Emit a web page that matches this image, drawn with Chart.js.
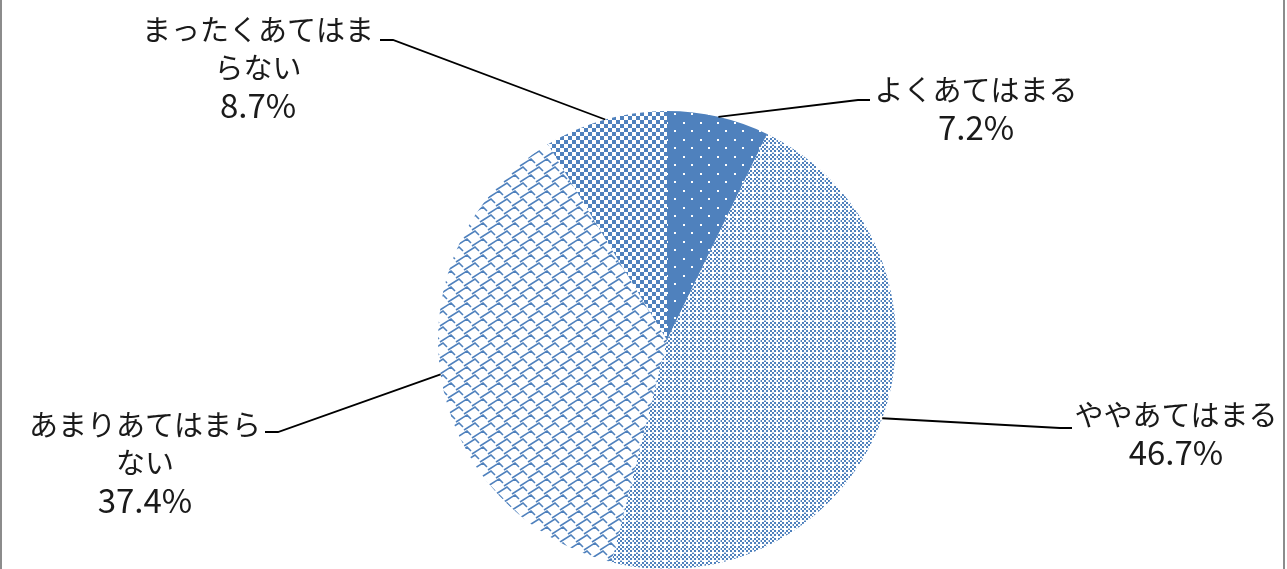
<!DOCTYPE html>
<html>
<head>
<meta charset="utf-8">
<script src="https://cdn.jsdelivr.net/npm/chart.js@4"></script>
<style>
body { margin: 0; background: #fff; }
canvas { display: block; }
</style>
</head>
<body>
<canvas id="pieChart" width="1287" height="569"></canvas>
<script>
const categories = ['よくあてはまる', 'ややあてはまる', 'あまりあてはまらない', 'まったくあてはまらない'];
const percentages = [7.2, 46.7, 37.4, 8.7];
// how each category label wraps on the chart
const labelLines = [['よくあてはまる'], ['ややあてはまる'], ['あまりあてはまら', 'ない'], ['まったくあてはま', 'らない']];

const BLUE = '#4F81BD';

// label placement: text center, first line y, elbow of the leader line
const labelLayout = [
    { x: 976, y: 90, elbowX: 858, elbowY: 100, endX: 870 },
    { x: 1176, y: 415, elbowX: 1060, elbowY: 428, endX: 1072 },
    { x: 145, y: 425, elbowX: 278, elbowY: 432, endX: 265 },
    { x: 258, y: 30, elbowX: 393, elbowY: 40, endX: 380 }
];

function makeTile(w, h, draw) {
    const c = document.createElement('canvas');
    c.width = w;
    c.height = h;
    const g = c.getContext('2d');
    draw(g);
    return g.createPattern(c, 'repeat');
}

const ctx = document.getElementById('pieChart').getContext('2d');

// solid blue with white dots
const dots = makeTile(17, 17, g => {
    g.fillStyle = BLUE;
    g.fillRect(0, 0, 17, 17);
    g.fillStyle = '#fff';
    g.fillRect(3, 3, 2, 2);
    g.fillRect(11, 11, 2, 2);
});

// fine checker with light grid
const fineChecker = makeTile(8, 8, g => {
    g.fillStyle = '#fff';
    g.fillRect(0, 0, 8, 8);
    g.fillStyle = BLUE;
    for (let y = 0; y < 8; y += 2) {
        for (let x = 0; x < 8; x += 2) {
            if (((x + y) / 2) % 2 === 0) g.fillRect(x, y, 2, 2);
        }
    }
    g.fillStyle = 'rgba(255,255,255,0.55)';
    g.fillRect(0, 0, 8, 1);
    g.fillRect(0, 0, 1, 8);
    g.fillStyle = '#fff';
    g.fillRect(0, 0, 2, 2);
});

// white with blue shingle steps, staggered
const shingle = makeTile(16, 16, g => {
    g.fillStyle = '#fff';
    g.fillRect(0, 0, 16, 16);
    g.strokeStyle = BLUE;
    g.lineWidth = 1.6;
    const starts = [[0, 14], [8, 6]];
    for (const [sx, sy] of starts) {
        for (const ox of [-16, 0, 16]) {
            for (const oy of [-16, 0, 16]) {
                const x = sx + ox, y = sy + oy;
                g.beginPath();
                g.moveTo(x, y);
                g.lineTo(x + 11, y - 7);
                g.lineTo(x + 15, y - 3);
                g.stroke();
            }
        }
    }
});

// coarse checkerboard
const checker = makeTile(8, 8, g => {
    g.fillStyle = '#fff';
    g.fillRect(0, 0, 8, 8);
    g.fillStyle = BLUE;
    g.fillRect(0, 0, 4, 4);
    g.fillRect(4, 4, 4, 4);
});

const leaderLabels = {
    id: 'leaderLabels',
    afterDraw(chart) {
        const c = chart.ctx;
        const arcs = chart.getDatasetMeta(0).data;
        c.save();
        arcs.forEach((arc, i) => {
            const lay = labelLayout[i];
            const mid = (arc.startAngle + arc.endAngle) / 2;
            const px = arc.x + Math.cos(mid) * arc.outerRadius;
            const py = arc.y + Math.sin(mid) * arc.outerRadius;
            c.strokeStyle = '#000';
            c.lineWidth = 1.8;
            c.beginPath();
            c.moveTo(px, py);
            c.lineTo(lay.elbowX, lay.elbowY);
            c.lineTo(lay.endX, lay.elbowY);
            c.stroke();

            c.fillStyle = '#1a1a1a';
            c.textAlign = 'center';
            c.textBaseline = 'middle';
            const lines = labelLines[i];
            c.font = '29px "Noto Sans CJK JP", sans-serif';
            lines.forEach((t, k) => c.fillText(t, lay.x, lay.y + k * 37.5));
            c.font = '33px "Noto Sans CJK JP", sans-serif';
            c.fillText(percentages[i].toFixed(1) + '%', lay.x, lay.y + lines.length * 37.5);
        });
        // chart frame edges
        c.fillStyle = '#8c8c8c';
        c.fillRect(0, 0, 2, chart.height);
        c.fillRect(1283, 0, 2, chart.height);
        c.restore();
    }
};

const config = {
    type: 'pie',
    data: {
        labels: categories,
        datasets: [{
            data: percentages,
            backgroundColor: [dots, fineChecker, shingle, checker],
            borderWidth: 0
        }]
    },
    options: {
        responsive: false,
        animation: false,
        layout: {
            padding: { top: 111, bottom: 0, left: 47, right: 0 }
        },
        plugins: {
            legend: { display: false },
            tooltip: { enabled: false }
        }
    },
    plugins: [leaderLabels]
};

const pieChart = new Chart(ctx, config);
</script>
</body>
</html>
